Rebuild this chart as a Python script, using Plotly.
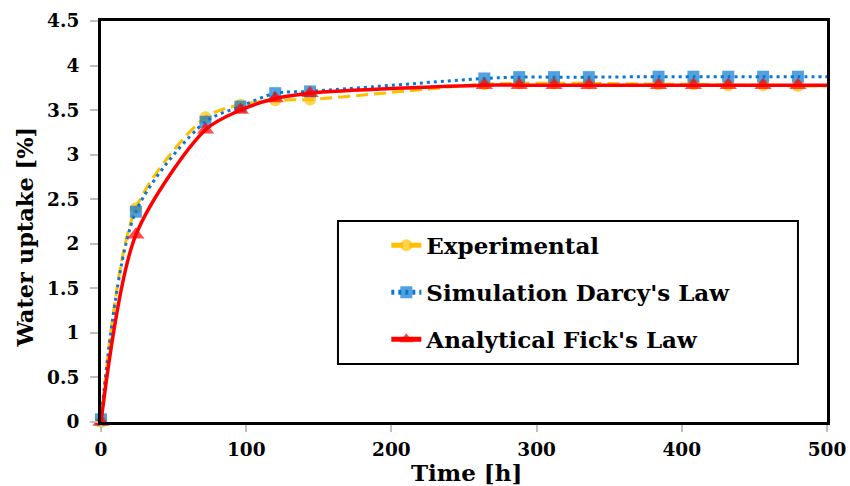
import plotly.graph_objects as go

# ---- data ----
time_h = [0, 24, 72, 96, 120, 144, 264, 288, 312, 336, 384, 408, 432, 456, 480, 504]
experimental = [0.0, 2.40, 3.42, 3.56, 3.61, 3.62, 3.79, 3.80, 3.80, 3.80, 3.79, 3.79, 3.78, 3.78, 3.77, 3.77]
darcy = [0.03, 2.36, 3.37, 3.54, 3.69, 3.71, 3.855, 3.87, 3.87, 3.87, 3.875, 3.875, 3.875, 3.875, 3.875, 3.875]
fick = [0.0, 2.10, 3.28, 3.50, 3.63, 3.69, 3.78, 3.78, 3.78, 3.78, 3.78, 3.78, 3.78, 3.78, 3.78, 3.78]

x_ticks = [0, 100, 200, 300, 400, 500]
y_ticks = [0, 0.5, 1, 1.5, 2, 2.5, 3, 3.5, 4, 4.5]

FONT = "DejaVu Serif"
ORANGE = "#FFC000"
BLUE = "#0A78D2"
RED = "#FF0000"


def sizes(n, s):
    # last point (beyond the axis end) has no visible marker
    return [s] * (n - 1) + [0]


n = len(time_h)
fig = go.Figure()
fig.add_trace(go.Scatter(
    x=time_h, y=experimental, name="Experimental", mode="lines+markers",
    line=dict(color=ORANGE, width=3, dash="12px,6px", shape="spline", smoothing=0.8),
    marker=dict(symbol="circle", color=ORANGE, size=sizes(n, 12), line=dict(width=0)),
    cliponaxis=False, legendgroup="a",
))
fig.add_trace(go.Scatter(
    x=time_h, y=darcy, name="Simulation Darcy's Law", mode="lines+markers",
    line=dict(color=BLUE, width=3, dash="3px,4px", shape="spline", smoothing=0.8),
    marker=dict(symbol="square", color=BLUE, size=sizes(n, 12), line=dict(width=0)),
    cliponaxis=False, legendgroup="b",
))
fig.add_trace(go.Scatter(
    x=time_h, y=fick, name="Analytical Fick's Law", mode="lines+markers",
    line=dict(color=RED, width=3.5, shape="spline", smoothing=0.8),
    marker=dict(symbol="triangle-up", color=RED, size=sizes(n, 15), line=dict(width=0)),
    cliponaxis=False, legendgroup="c",
))

tickfont = dict(family=FONT, size=18.5, color="black", weight="bold")

fig.update_layout(
    width=850, height=486,
    margin=dict(l=101, r=23, t=21, b=64),
    paper_bgcolor="white", plot_bgcolor="white",
    font=dict(family=FONT),
    showlegend=True,
    legend=dict(
        x=0.393, y=0.494, xanchor="left", yanchor="top",
        bgcolor="rgba(0,0,0,0)", borderwidth=0,
        font=dict(family=FONT, size=23, color="black", weight="bold"),
        tracegroupgap=14, traceorder="grouped", itemsizing="constant",
    ),
    xaxis=dict(
        range=[0, 500], tickvals=x_ticks, ticks="outside", ticklen=7,
        tickcolor="#BFBFBF", tickwidth=1.5, showline=True, linecolor="black",
        linewidth=3, mirror=True, showgrid=False, zeroline=False,
        tickfont=tickfont, ticklabelstandoff=2, automargin=False,
    ),
    yaxis=dict(
        range=[0, 4.5], tickvals=y_ticks, ticks="outside", ticklen=8,
        tickcolor="#BFBFBF", tickwidth=1.5, showline=True, linecolor="black",
        linewidth=3, mirror=True, showgrid=False, zeroline=False,
        tickfont=tickfont, ticklabelstandoff=7, automargin=False,
    ),
    shapes=[dict(
        type="rect", xref="paper", yref="paper",
        x0=0.3264, x1=0.96, y0=0.1446, y1=0.501,
        line=dict(color="black", width=2), fillcolor="white", layer="above",
    )],
    annotations=[
        dict(text="Water uptake [%]", xref="paper", yref="paper",
             x=-0.105, y=0.462, xanchor="center", yanchor="middle",
             textangle=-90, showarrow=False,
             font=dict(family=FONT, size=22.5, color="black", weight="bold")),
        dict(text="Time [h]", xref="paper", yref="paper",
             x=0.503, y=-0.125, xanchor="center", yanchor="middle",
             showarrow=False,
             font=dict(family=FONT, size=23, color="black", weight="bold")),
    ],
)

fig.write_html("out.html")
